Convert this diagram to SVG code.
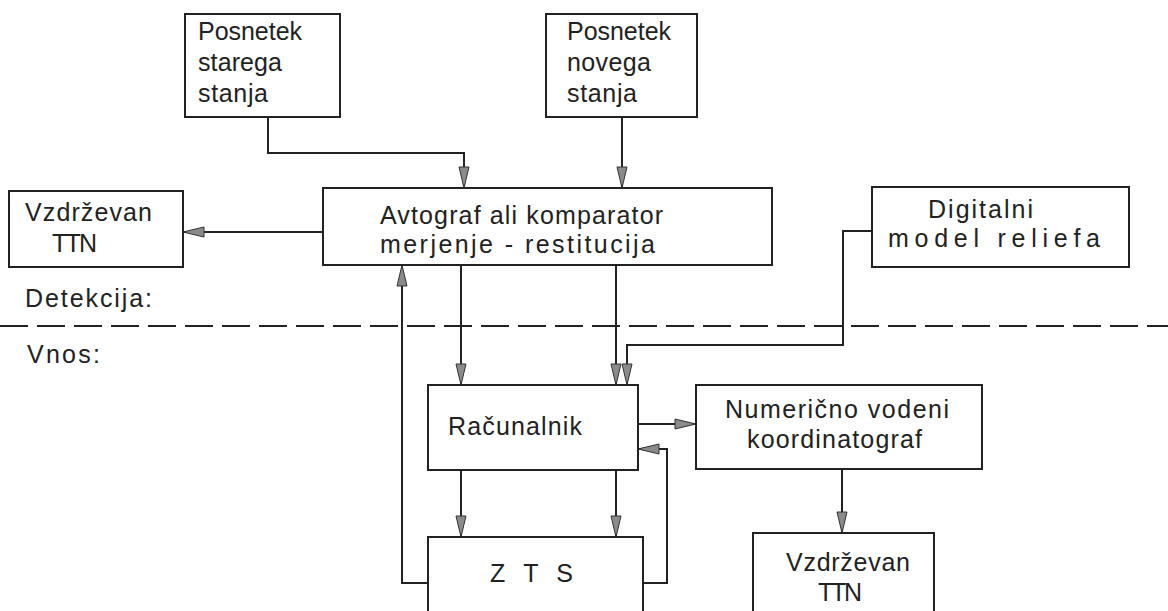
<svg xmlns="http://www.w3.org/2000/svg" width="1168" height="611" viewBox="0 0 1168 611">
<style>
.box{fill:#fff;stroke:#222;stroke-width:2}
.t{font-family:"Liberation Sans",Arial,sans-serif;font-size:25px;fill:#222}
.c{fill:none;stroke:#222;stroke-width:2}
.dash{fill:none;stroke:#222;stroke-width:2;stroke-dasharray:28 9}
</style>
<defs>
<marker id="ah" markerUnits="userSpaceOnUse" markerWidth="26" markerHeight="14" refX="22" refY="6" orient="auto">
<path d="M1,1 L22,6 L1,11 Z" fill="#8a8a8a" stroke="#333" stroke-width="1"/>
</marker>
</defs>
<rect width="1168" height="611" fill="#fff"/>
<line class="dash" x1="0" y1="326" x2="1168" y2="326"/>
<text class="t" x="25" y="307" textLength="127" lengthAdjust="spacing">Detekcija:</text>
<text class="t" x="27" y="363" textLength="73" lengthAdjust="spacing">Vnos:</text>

<g id="connectors">
<path class="c" d="M268,117 V153 H464 V188" marker-end="url(#ah)"/>
<path class="c" d="M622,117 V188" marker-end="url(#ah)"/>
<path class="c" d="M323,232 H183" marker-end="url(#ah)"/>
<path class="c" d="M461,265 V385" marker-end="url(#ah)"/>
<path class="c" d="M616,265 V385" marker-end="url(#ah)"/>
<path class="c" d="M872,231 H843 V345 H627 V385" marker-end="url(#ah)"/>
<path class="c" d="M638,424 H696" marker-end="url(#ah)"/>
<path class="c" d="M643,583 H667 V449 H638" marker-end="url(#ah)"/>
<path class="c" d="M428,583 H402 V265" marker-end="url(#ah)"/>
<path class="c" d="M461,470 V537" marker-end="url(#ah)"/>
<path class="c" d="M616,470 V537" marker-end="url(#ah)"/>
<path class="c" d="M842,469 V533" marker-end="url(#ah)"/>
</g>

<g id="starega">
<rect class="box" x="185" y="14" width="155" height="103"/>
<text class="t" x="198" y="40" textLength="104" lengthAdjust="spacing">Posnetek</text>
<text class="t" x="198" y="71" textLength="84" lengthAdjust="spacing">starega</text>
<text class="t" x="198" y="102" textLength="70" lengthAdjust="spacing">stanja</text>
</g>
<g id="novega">
<rect class="box" x="546" y="14" width="151" height="103"/>
<text class="t" x="567" y="40" textLength="104" lengthAdjust="spacing">Posnetek</text>
<text class="t" x="567" y="71" textLength="84" lengthAdjust="spacing">novega</text>
<text class="t" x="567" y="102" textLength="70" lengthAdjust="spacing">stanja</text>
</g>
<g id="avtograf">
<rect class="box" x="323" y="188" width="449" height="77"/>
<text class="t" x="380" y="224" textLength="283" lengthAdjust="spacing">Avtograf ali komparator</text>
<text class="t" x="380" y="253" textLength="275" lengthAdjust="spacing">merjenje  -  restitucija</text>
</g>
<g id="ttn1">
<rect class="box" x="9" y="191" width="174" height="76"/>
<text class="t" x="25" y="221" textLength="127" lengthAdjust="spacing">Vzdrževan</text>
<text class="t" x="52" y="252" textLength="45" lengthAdjust="spacing">TTN</text>
</g>
<g id="dmr">
<rect class="box" x="872" y="187" width="257" height="80"/>
<text class="t" x="928" y="218" textLength="105" lengthAdjust="spacing">Digitalni</text>
<text class="t" x="888" y="247" textLength="212" lengthAdjust="spacing">model  reliefa</text>
</g>
<g id="racunalnik">
<rect class="box" x="428" y="385" width="210" height="85"/>
<text class="t" x="448" y="435" textLength="134" lengthAdjust="spacing">Računalnik</text>
</g>
<g id="koordinatograf">
<rect class="box" x="696" y="385" width="286" height="84"/>
<text class="t" x="725" y="418" textLength="224" lengthAdjust="spacing">Numerično vodeni</text>
<text class="t" x="747" y="448" textLength="175" lengthAdjust="spacing">koordinatograf</text>
</g>
<g id="zts">
<rect class="box" x="428" y="537" width="215" height="90"/>
<text class="t" x="490" y="582" textLength="83" lengthAdjust="spacing">Z T S</text>
</g>
<g id="ttn2">
<rect class="box" x="753" y="533" width="181" height="90"/>
<text class="t" x="786" y="571" textLength="124" lengthAdjust="spacing">Vzdrževan</text>
<text class="t" x="818" y="601" textLength="44" lengthAdjust="spacing">TTN</text>
</g>
</svg>
